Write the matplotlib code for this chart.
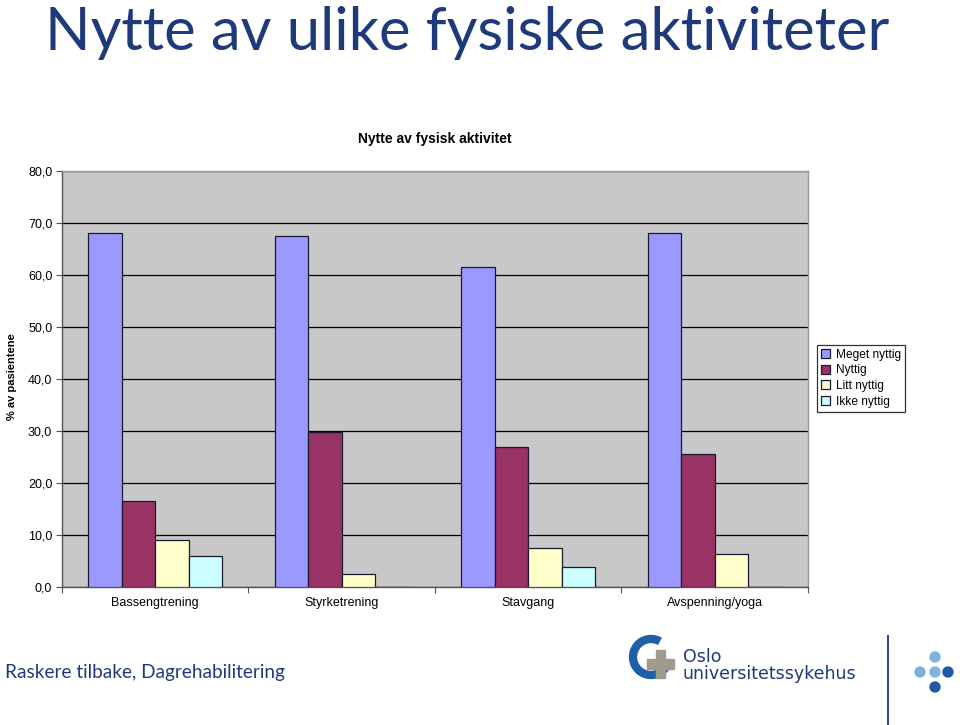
import matplotlib
matplotlib.use('Agg')
import matplotlib.pyplot as plt
import numpy as np
from matplotlib.patches import Circle, Arc, Rectangle

# Data
categories = ['Bassengtrening', 'Styrketrening', 'Stavgang', 'Avspenning/yoga']
series_names = ['Meget nyttig', 'Nyttig', 'Litt nyttig', 'Ikke nyttig']
meget_nyttig = [68.1, 67.5, 61.5, 68.1]
nyttig = [16.5, 29.8, 26.9, 25.6]
litt_nyttig = [9.0, 2.5, 7.5, 6.3]
ikke_nyttig = [6.0, 0.0, 3.8, 0.0]
yticks = [0, 10, 20, 30, 40, 50, 60, 70, 80]

series = [meget_nyttig, nyttig, litt_nyttig, ikke_nyttig]
colors = ['#9999FF', '#993366', '#FFFFCC', '#CCFFFF']

fig = plt.figure(figsize=(9.6, 7.25), dpi=100)
fig.patch.set_facecolor('white')

# Slide title
fig.text(0.487, 0.955, 'Nytte av ulike fysiske aktiviteter', ha='center', va='center',
         fontsize=43, color='#1F3A7A', family='Lato')

ax = fig.add_axes([0.0646, 0.1903, 0.777, 0.5738])
ax.set_facecolor('#C8C8C8')

x = np.arange(len(categories))
w = 0.18
for i, (vals, name, col) in enumerate(zip(series, series_names, colors)):
    ax.bar(x + (i - 1.5) * w, vals, width=w, color=col, edgecolor='#1a1a2e',
           linewidth=0.9, label=name, zorder=3)

ax.set_xlim(-0.5, len(categories) - 0.5)
ax.set_ylim(0, 80)
ax.set_yticks(yticks)
ax.set_yticklabels([f'{v:.1f}'.replace('.', ',') for v in yticks],
                   fontsize=9, family='Liberation Sans')
ax.yaxis.grid(True, color='black', linewidth=0.9, zorder=1)
ax.set_axisbelow(True)

# category labels between boundary ticks
ax.set_xticks(np.arange(-0.5, len(categories)), minor=False)
ax.set_xticklabels([])
ax.set_xticks(x, minor=True)
ax.set_xticklabels(categories, minor=True, fontsize=9, family='Liberation Sans')
ax.tick_params(axis='x', which='minor', length=0, pad=7)
ax.tick_params(axis='x', which='major', length=4, direction='out', color='#555555')
ax.tick_params(axis='y', length=4, direction='out', color='#555555', pad=3)

for s in ['left', 'bottom']:
    ax.spines[s].set_color('#555555')
    ax.spines[s].set_linewidth(1.0)
for s in ['top', 'right']:
    ax.spines[s].set_color('#999999')
    ax.spines[s].set_linewidth(1.0)

ax.set_title('Nytte av fysisk aktivitet', fontsize=10, fontweight='bold',
             family='Liberation Sans', pad=20)
ax.set_ylabel('% av pasientene', fontsize=8, fontweight='bold',
              family='Liberation Sans')
ax.yaxis.set_label_coords(-0.06, 0.505)

leg = ax.legend(loc='center left', bbox_to_anchor=(1.012, 0.502),
                prop={'family': 'Liberation Sans', 'size': 8.6},
                frameon=True, fancybox=False, handlelength=0.75, handleheight=0.75,
                handletextpad=0.5, labelspacing=0.3, borderpad=0.35,
                borderaxespad=0)
leg.get_frame().set_edgecolor('black')
leg.get_frame().set_linewidth(0.9)

# Footer
fig.text(0.005, 0.073, 'Raskere tilbake, Dagrehabilitering', ha='left', va='center',
         fontsize=13.7, color='#1F3A7A', family='Lato')

# Logo overlay in pixel coordinates
ov = fig.add_axes([0, 0, 1, 1], zorder=5)
ov.set_xlim(0, 960)
ov.set_ylim(725, 0)
ov.axis('off')
ov.add_patch(Arc((651, 657), 36, 36, theta1=30, theta2=300, color='#1E5FA8', lw=6))
ov.add_patch(Rectangle((656, 650), 9, 28, color='#A09A8E'))
ov.add_patch(Rectangle((647, 659), 27, 10, color='#A09A8E'))
ov.text(683, 657, 'Oslo', fontsize=12.5, color='#1F3A7A', va='center', ha='left',
        family='DejaVu Sans')
ov.text(683, 674, 'universitetssykehus', fontsize=12.5, color='#1F3A7A', va='center',
        ha='left', family='DejaVu Sans')
ov.plot([888, 888], [636, 725], color='#2F4F9A', lw=1.5)
for (cx, cy, c) in [(935, 657, '#7FB2E0'), (920, 672, '#7FB2E0'), (935, 672, '#7FB2E0'),
                    (948, 672, '#1F5AA6'), (935, 687, '#1F5AA6')]:
    ov.add_patch(Circle((cx, cy), 5, color=c))

fig.savefig('out.png', dpi=100)
